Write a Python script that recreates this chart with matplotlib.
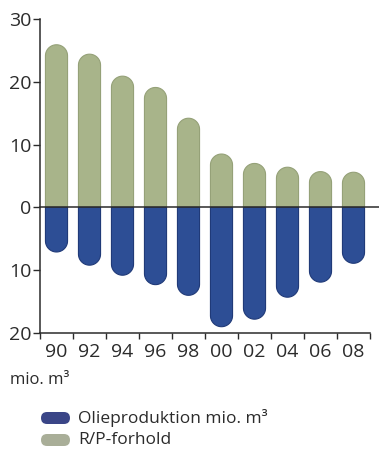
import numpy as np
import matplotlib.pyplot as plt
from matplotlib.path import Path
from matplotlib.patches import PathPatch, FancyBboxPatch

plt.rcParams['font.family'] = ['Open Sans', 'DejaVu Sans']

years = ["90", "92", "94", "96", "98", "00", "02", "04", "06", "08"]
rp_ratio = [25.9, 24.4, 20.9, 19.1, 14.2, 8.5, 7.0, 6.4, 5.7, 5.6]        # R/P-forhold
production = [7.1, 9.2, 10.8, 12.3, 14.0, 19.0, 17.8, 14.3, 11.9, 8.9]   # mio. m3
y_ticks = [-20, -10, 0, 10, 20, 30]
y_ticklabels = ["20", "10", "0", "10", "20", "30"]

green = "#a8b48a"
green_edge = "#95a178"
blue = "#2d4e95"
blue_edge = "#203a78"
ink = "#2b2b2b"

W, H = 379, 454
fig = plt.figure(figsize=(W / 100, H / 100), dpi=100)
fig.patch.set_facecolor("white")
ax_l, ax_r, ax_t, ax_b = 40, 370, 19, 333
ax = fig.add_axes([ax_l / W, 1 - ax_b / H, (ax_r - ax_l) / W, (ax_b - ax_t) / H])
ax.set_xlim(0, len(years))
ax.set_ylim(-20, 30)

# data units -> pixels, used to make the bar ends round on screen
px_x = (ax_r - ax_l) / len(years)
px_y = (ax_b - ax_t) / 50.0
bar_w = 0.67
ry = (bar_w / 2) * px_x / px_y


def rounded_bar(ax, xc, value, color, edge):
    """Bar from 0 to value with a half-round cap at the far end."""
    sign = 1 if value >= 0 else -1
    r = min(ry, abs(value))
    y_join = value - sign * r
    t = np.linspace(np.pi, 0, 30)
    xs = xc + (bar_w / 2) * np.cos(t)
    ys = y_join + sign * r * np.sin(t)
    verts = [(xc - bar_w / 2, 0), (xc - bar_w / 2, y_join)]
    verts += list(zip(xs, ys))
    verts += [(xc + bar_w / 2, 0), (xc - bar_w / 2, 0)]
    codes = [Path.MOVETO] + [Path.LINETO] * (len(verts) - 2) + [Path.CLOSEPOLY]
    ax.add_patch(PathPatch(Path(verts, codes), facecolor=color, edgecolor=edge,
                           linewidth=0.8, zorder=2))


centers = np.arange(len(years)) + 0.5
for xc, rp, prod in zip(centers, rp_ratio, production):
    rounded_bar(ax, xc, rp, green, green_edge)
    rounded_bar(ax, xc, -prod, blue, blue_edge)

# zero line runs to the right edge of the figure
ax.plot([0, 1 + 9 / (ax_r - ax_l)], [0, 0], transform=ax.get_yaxis_transform(),
        color=ink, lw=1.1, clip_on=False, zorder=3)

for side in ["top", "right"]:
    ax.spines[side].set_visible(False)
for side in ["left", "bottom"]:
    ax.spines[side].set_color(ink)
    ax.spines[side].set_linewidth(1.1)

ax.set_yticks(y_ticks)
ax.set_yticklabels(y_ticklabels)
ax.tick_params(axis="y", direction="out", length=5, width=1, color=ink,
               labelsize=14, labelcolor=ink, pad=1)

ax.set_xticks(np.arange(len(years) + 1), minor=True)
ax.set_xticks(centers)
ax.set_xticklabels(years)
ax.tick_params(axis="x", which="major", length=0, labelsize=14, labelcolor=ink, pad=7)
ax.tick_params(axis="x", which="minor", direction="out", length=4, width=1, color=ink)

fig.text(10 / W, 1 - 380 / H, "mio. m³", fontsize=12, color=ink, va="center", ha="left")

# legend with rounded swatches
legend_items = [("Olieproduktion mio. m³", "#3a4587", 418), ("R/P-forhold", "#a9ae98", 440)]
for label, color, ypix in legend_items:
    sw = FancyBboxPatch((41 / W, 1 - (ypix + 6) / H), 29 / W, 12 / H,
                        boxstyle="round,pad=0,rounding_size=0.016",
                        mutation_aspect=W / H, transform=fig.transFigure,
                        facecolor=color, edgecolor="none")
    fig.patches.append(sw)
    fig.text(78 / W, 1 - ypix / H, label, fontsize=12.5, color=ink, va="center", ha="left")

fig.savefig("out.png", dpi=100, facecolor="white")
